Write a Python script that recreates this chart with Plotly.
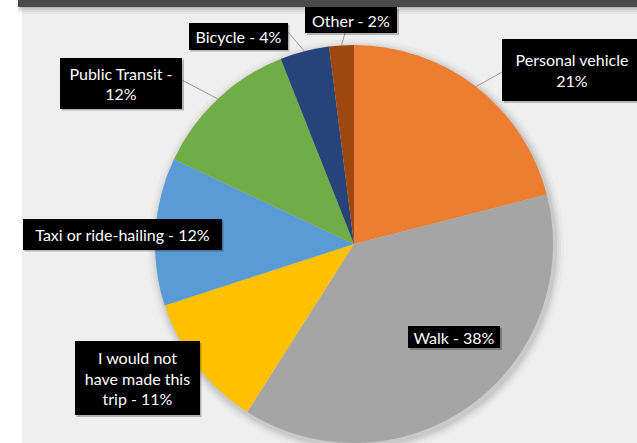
import math
import plotly.graph_objects as go

W, H = 637, 443

# Mode share of trips (percent), clockwise from 12 o'clock
categories = ["Personal vehicle", "Walk", "I would not have made this trip",
              "Taxi or ride-hailing", "Public Transit", "Bicycle", "Other"]
shares = [21, 38, 11, 12, 12, 4, 2]
colors = ["#ED7D31", "#A5A5A5", "#FFC000", "#5B9BD5", "#70AD47", "#264478", "#9E480E"]

# Label templates (value filled in from the shares list)
label_templates = ["Personal vehicle<br>{v}%", "Walk - {v}%",
                   "I would not<br>have made this<br>trip - {v}%",
                   "Taxi or ride-hailing - {v}%", "Public Transit -<br>{v}%",
                   "Bicycle - {v}%", "Other - {v}%"]

# Label boxes in pixels: centre x, centre y, width, height
label_boxes = [(572, 70, 140, 62), (454, 337, 92, 22), (137, 378, 125, 74),
               (122, 234, 199, 31), (121, 83, 122, 51), (238, 36, 99, 27),
               (351, 20, 92, 26)]
# Leader-line start points on the box (None = no leader)
leader_starts = [(502, 72), None, None, None, (182, 80), (288, 32), (345, 33)]

# Pie geometry in pixels
CX, CY, R = 354, 244, 199


def px(x):
    return x / W


def py(y):
    return 1 - y / H


fig = go.Figure()
fig.add_trace(go.Pie(
    labels=categories, values=shares, sort=False, direction="clockwise",
    rotation=0, marker=dict(colors=colors, line=dict(width=0)),
    textinfo="none", hoverinfo="label+percent", showlegend=False,
    domain=dict(x=[px(CX - R), px(CX + R)], y=[py(CY + R), py(CY - R)]),
))

shapes = []
# light panel and dark top rule
shapes.append(dict(type="rect", xref="paper", yref="paper", layer="below",
                   x0=px(22), x1=1, y0=0, y1=py(0), fillcolor="#EFEFEF", line_width=0))
for i, a in enumerate([0.10, 0.07, 0.05, 0.03]):
    shapes.append(dict(type="rect", xref="paper", yref="paper", layer="below",
                       x0=px(20 - i), x1=1, y0=py(8 + 2 * i), y1=py(0),
                       fillcolor=f"rgba(0,0,0,{a})", line_width=0))
shapes.append(dict(type="rect", xref="paper", yref="paper", layer="below",
                   x0=px(18), x1=1, y0=py(7), y1=1, fillcolor="#4A4A4A", line_width=0))

# soft shadow behind the pie
for k, a in [(9, 0.025), (6, 0.035), (4, 0.045), (2, 0.06)]:
    shapes.append(dict(type="circle", xref="paper", yref="paper", layer="below",
                       x0=px(CX + 2 - R - k), x1=px(CX + 2 + R + k),
                       y0=py(CY + 3 + R + k), y1=py(CY + 3 - R - k),
                       fillcolor=f"rgba(0,0,0,{a})", line_width=0))

# leader lines to slice mid-angles
total = sum(shares)
cum = 0
mid_angles = []
for v in shares:
    mid_angles.append((cum + v / 2) / total * 2 * math.pi)
    cum += v
for start, ang in zip(leader_starts, mid_angles):
    if start is None:
        continue
    ex = CX + R * math.sin(ang)
    ey = CY - R * math.cos(ang)
    shapes.append(dict(type="line", xref="paper", yref="paper",
                       x0=px(start[0]), y0=py(start[1]), x1=px(ex), y1=py(ey),
                       line=dict(color="#9A9A9A", width=1)))

# box drop shadows
for (cx, cy, w, h) in label_boxes:
    shapes.append(dict(type="rect", xref="paper", yref="paper",
                       x0=px(cx - w / 2 + 2), x1=px(cx + w / 2 + 2),
                       y0=py(cy + h / 2 + 2), y1=py(cy - h / 2 + 2),
                       fillcolor="rgba(0,0,0,0.25)", line_width=0))

annotations = []
for tpl, v, (cx, cy, w, h) in zip(label_templates, shares, label_boxes):
    annotations.append(dict(
        text=tpl.format(v=v), xref="paper", yref="paper",
        x=px(cx), y=py(cy), xanchor="center", yanchor="middle",
        width=w, height=h, showarrow=False, align="center", valign="middle",
        bgcolor="#000000", borderpad=0, borderwidth=0,
        font=dict(family="Lato", size=16, color="#FFFFFF"),
    ))

fig.update_layout(
    width=W, height=H, margin=dict(l=0, r=0, t=0, b=0),
    paper_bgcolor="#FFFFFF", plot_bgcolor="#FFFFFF",
    shapes=shapes, annotations=annotations,
)

fig.write_html("out.html")
